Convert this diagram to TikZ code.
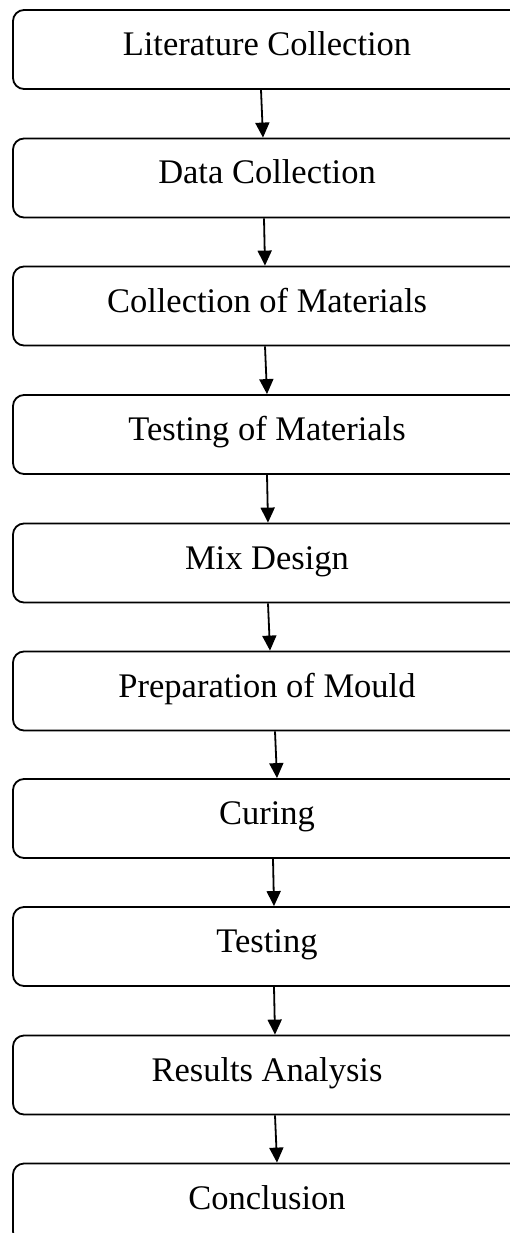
\documentclass[tikz,border=0pt]{standalone}
\usepackage{fontspec}
\setmainfont{Liberation Serif}
\usetikzlibrary{arrows.meta}
\begin{document}
\begin{tikzpicture}[x=1pt,y=-1pt,
  stepbox/.style={draw=black, line width=1.8pt, rounded corners=11pt, fill=white,
    minimum width=508pt, minimum height=79pt, inner sep=0pt,
    text height=12pt, text depth=0pt, font=\fontsize{34.5}{40}\selectfont},
  flow/.style={line width=1.8pt, -{Triangle[length=15pt,width=14pt]}}]
\useasboundingbox (0,0) rectangle (510,1233);
\clip (0,0) rectangle (510,1233);
\fill[white] (0,0) rectangle (510,1233);
\node[stepbox] (n1) at (267,49.5) {Literature Collection};
\node[stepbox] (n2) at (267,178) {Data Collection};
\node[stepbox] (n3) at (267,306) {Collection of Materials};
\node[stepbox] (n4) at (267,434.5) {Testing of Materials};
\node[stepbox] (n5) at (267,563) {Mix Design};
\node[stepbox] (n6) at (267,691) {Preparation of Mould};
\node[stepbox] (n7) at (267,818.5) {Curing};
\node[stepbox] (n8) at (267,946.5) {Testing};
\node[stepbox] (n9) at (267,1075) {Results Analysis};
\node[stepbox] (n10) at (267,1203) {Conclusion};
\draw[flow] ([xshift=-6pt]n1.south) -- ([xshift=-4pt]n2.north);
\draw[flow] ([xshift=-3pt]n2.south) -- ([xshift=-2pt]n3.north);
\draw[flow] ([xshift=-2pt]n3.south) -- ([xshift=0pt]n4.north);
\draw[flow] ([xshift=0pt]n4.south) -- ([xshift=1pt]n5.north);
\draw[flow] ([xshift=1pt]n5.south) -- ([xshift=3pt]n6.north);
\draw[flow] ([xshift=8pt]n6.south) -- ([xshift=10pt]n7.north);
\draw[flow] ([xshift=6pt]n7.south) -- ([xshift=7pt]n8.north);
\draw[flow] ([xshift=7pt]n8.south) -- ([xshift=8pt]n9.north);
\draw[flow] ([xshift=8pt]n9.south) -- ([xshift=10pt]n10.north);
\end{tikzpicture}
\end{document}
